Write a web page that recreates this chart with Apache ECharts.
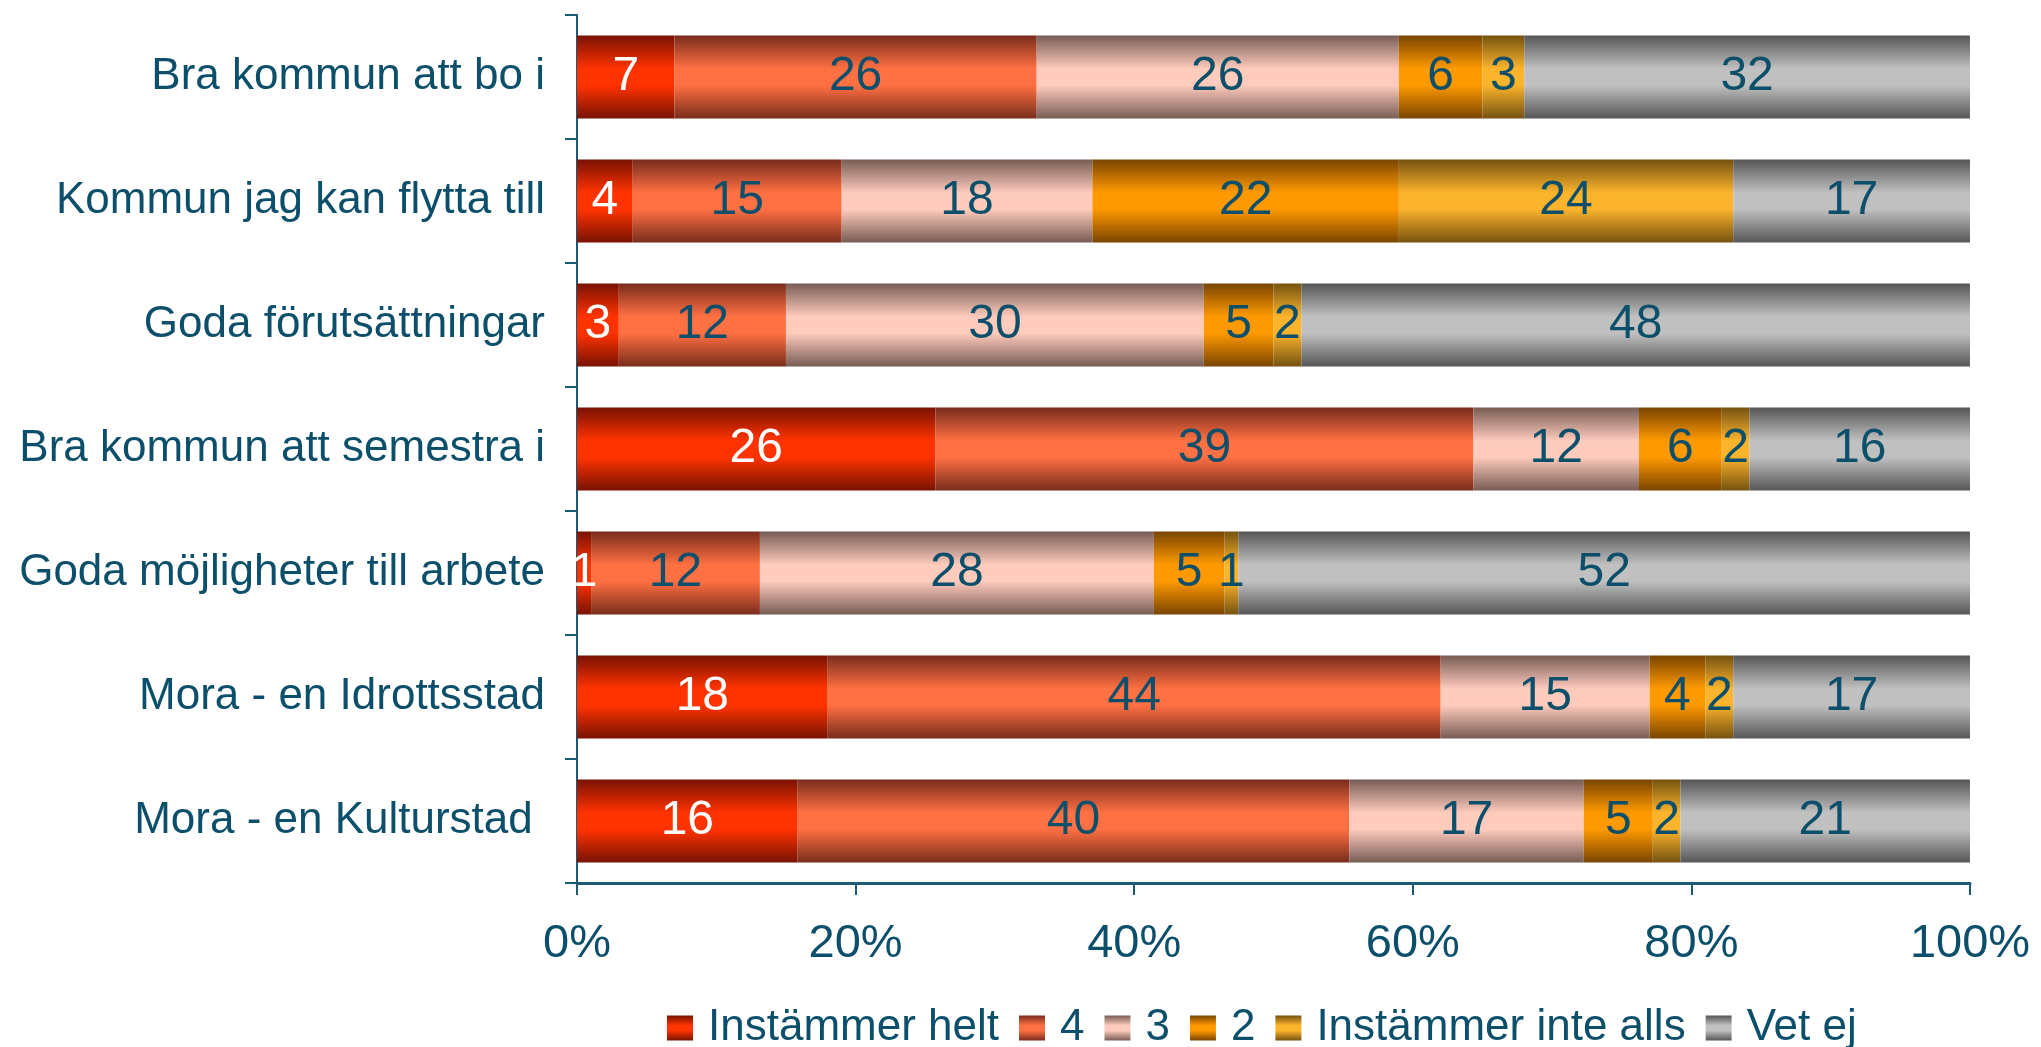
<!DOCTYPE html>
<html>
<head>
<meta charset="utf-8">
<script src="https://cdn.jsdelivr.net/npm/echarts@6/dist/echarts.min.js"></script>
<style>
html,body{margin:0;padding:0;background:#fff;}
#chart{width:2041px;height:1047px;}
</style>
</head>
<body>
<div id="chart"></div>
<script>
var categories = [
  "Bra kommun att bo i",
  "Kommun jag kan flytta till",
  "Goda förutsättningar",
  "Bra kommun att semestra i",
  "Goda möjligheter till arbete",
  "Mora - en Idrottsstad",
  "Mora - en Kulturstad "
];
var seriesNames = ["Instämmer helt", "4", "3", "2", "Instämmer inte alls", "Vet ej"];
var instammerHelt = [7, 4, 3, 26, 1, 18, 16];
var fyra          = [26, 15, 12, 39, 12, 44, 40];
var tre           = [26, 18, 30, 12, 28, 15, 17];
var tva           = [6, 22, 5, 6, 5, 4, 5];
var instammerInteAlls = [3, 24, 2, 2, 1, 2, 2];
var vetEj         = [32, 17, 48, 16, 52, 17, 21];
var xTickLabels = ["0%", "20%", "40%", "60%", "80%", "100%"];

var raw = [instammerHelt, fyra, tre, tva, instammerInteAlls, vetEj];
var totals = categories.map(function(c, i){
  var s = 0; raw.forEach(function(a){ s += a[i]; }); return s;
});

var darkC  = ["#781200", "#782c1b", "#785c55", "#784500", "#755210", "#565656"];
var brightC = ["#ff3300", "#ff7043", "#fecbbc", "#ff9900", "#fbb42b", "#c0c0c0"];
function grad(i){
  return new echarts.graphic.LinearGradient(0, 0, 0, 1, [
    {offset: 0, color: darkC[i]},
    {offset: 0.4, color: brightC[i]},
    {offset: 0.6, color: brightC[i]},
    {offset: 1, color: darkC[i]}
  ]);
}
var textColor = "#0c4f6b";
var axisColor = "#1c5a76";
var font = "'Liberation Sans', Arial, sans-serif";

var series = raw.map(function(arr, si){
  return {
    name: seriesNames[si],
    type: "bar",
    stack: "total",
    barWidth: 83,
    itemStyle: {color: grad(si)},
    label: {
      show: true,
      position: "inside",
      fontFamily: font,
      fontSize: 48,
      color: si === 0 ? "#ffffff" : textColor,
      formatter: function(p){ return arr[p.dataIndex]; }
    },
    emphasis: {disabled: true},
    data: arr.map(function(v, i){ return v / totals[i] * 100; })
  };
});

var chart = echarts.init(document.getElementById("chart"));
chart.setOption({
  animation: false,
  backgroundColor: "#ffffff",
  grid: {left: 577, right: 71, top: 15, bottom: 164, containLabel: false},
  legend: {
    left: 667,
    top: 1006,
    padding: 0,
    itemWidth: 26,
    itemHeight: 25,
    itemGap: 20,
    icon: "rect",
    data: seriesNames,
    textStyle: {fontFamily: font, fontSize: 44, color: textColor, padding: [0, 0, 0, 10]}
  },
  xAxis: {
    type: "value",
    min: 0,
    max: 100,
    interval: 20,
    splitLine: {show: false},
    axisLine: {show: true, lineStyle: {color: axisColor, width: 3}},
    axisTick: {show: true, length: 12, lineStyle: {color: axisColor, width: 2}},
    axisLabel: {
      margin: 38,
      fontFamily: font,
      fontSize: 47,
      color: textColor,
      formatter: function(v){ return xTickLabels[Math.round(v / 20)]; }
    }
  },
  yAxis: {
    type: "category",
    inverse: true,
    data: categories,
    axisLine: {show: true, lineStyle: {color: axisColor, width: 2}},
    axisTick: {show: true, length: 12, lineStyle: {color: axisColor, width: 2}},
    axisLabel: {margin: 32, fontFamily: font, fontSize: 44, color: textColor}
  },
  series: series
});
</script>
</body>
</html>
